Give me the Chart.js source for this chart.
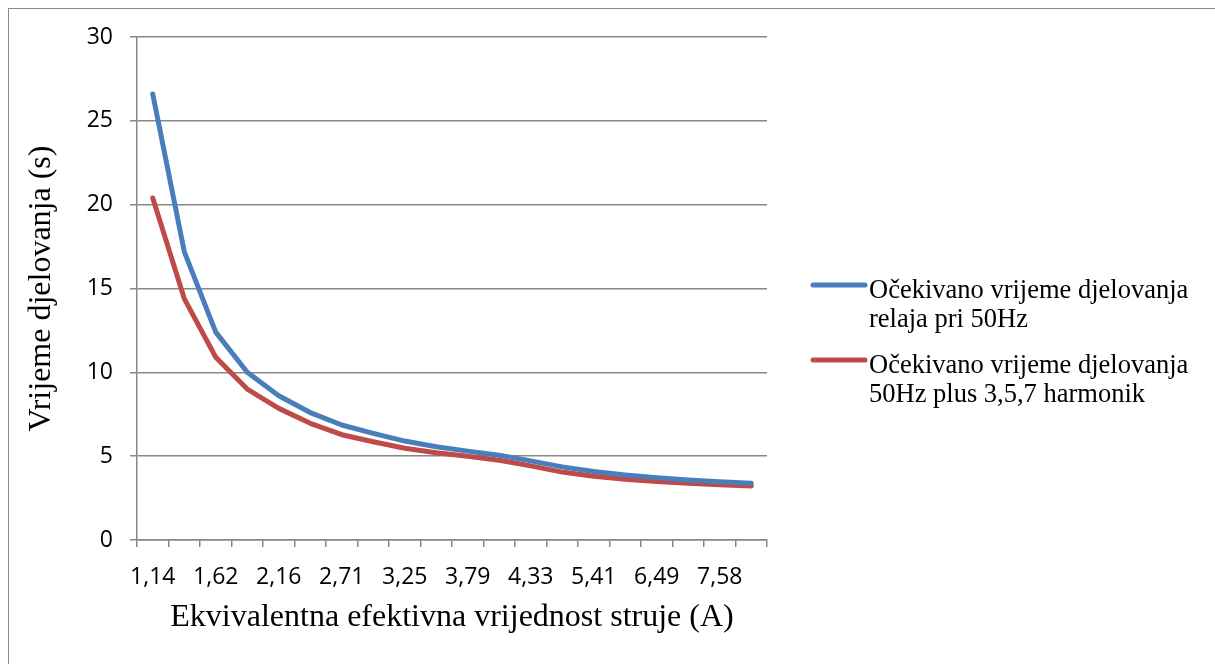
<!DOCTYPE html>
<html>
<head>
<meta charset="utf-8">
<title>Vrijeme djelovanja</title>
<script src="https://cdn.jsdelivr.net/npm/chart.js@4/dist/chart.umd.min.js"></script>
<style>
  html, body { margin: 0; padding: 0; background: #fff; }
  #wrap { position: relative; width: 1215px; height: 664px; overflow: hidden; }
  #frame { position: absolute; left: 8px; top: 8px; right: -10px; bottom: -10px;
           border-left: 1.5px solid #8a8a8a; border-top: 1.5px solid #8a8a8a; pointer-events: none; }
  canvas { position: absolute; left: 0; top: 0; }
</style>
</head>
<body>
<div id="wrap">
  <canvas id="myChart" width="1215" height="664"></canvas>
  <div id="frame"></div>
</div>
<script>
// struja (A) - kategorije na x osi
var struja = ["1,14", "1,35", "1,62", "1,90", "2,16", "2,44", "2,71", "2,98", "3,25", "3,52",
              "3,79", "4,06", "4,33", "4,87", "5,41", "5,96", "6,49", "7,04", "7,58", "8,12"];

// ocekivano vrijeme djelovanja pri 50Hz (s)
var vrijeme50 = [26.6, 17.2, 12.4, 10.0, 8.6, 7.6, 6.86, 6.36, 5.9, 5.56,
                 5.3, 5.05, 4.72, 4.36, 4.08, 3.88, 3.72, 3.58, 3.47, 3.38];

// ocekivano vrijeme djelovanja 50Hz + 3,5,7 harmonik (s)
var vrijemeHarm = [20.4, 14.4, 10.9, 9.0, 7.85, 6.96, 6.28, 5.86, 5.47, 5.2,
                   5.0, 4.76, 4.42, 4.05, 3.8, 3.62, 3.49, 3.38, 3.29, 3.22];

var yTicks = [0, 5, 10, 15, 20, 25, 30];

var legendText = [
    ["Očekivano vrijeme djelovanja", "relaja pri 50Hz"],
    ["Očekivano vrijeme djelovanja", "50Hz plus 3,5,7 harmonik"]
];

var gridColor = "#878787";

// legenda desno od grafa, tekst u dva reda
var legendPlugin = {
    id: 'sideLegend',
    afterDraw: function(chart) {
        var ctx = chart.ctx;
        ctx.save();
        ctx.font = "26.5px 'Liberation Serif'";
        ctx.fillStyle = "#000";
        ctx.textBaseline = "alphabetic";
        chart.data.datasets.forEach(function(ds, i) {
            var y = 285 + i * 75;
            ctx.strokeStyle = ds.borderColor;
            ctx.lineWidth = 5;
            ctx.lineCap = "round";
            ctx.beginPath();
            ctx.moveTo(813, y);
            ctx.lineTo(865, y);
            ctx.stroke();
            legendText[i].forEach(function(t, j) {
                ctx.fillText(t, 869, y + 12.7 + j * 29.3);
            });
        });
        ctx.restore();
    }
};

var ctx = document.getElementById("myChart").getContext('2d');
var myChart = new Chart(ctx, {
    type: 'line',
    data: {
        labels: struja,
        datasets: [{
            label: legendText[0].join(" "),
            borderColor: "#4a7ebb",
            backgroundColor: "#4a7ebb",
            data: vrijeme50
        }, {
            label: legendText[1].join(" "),
            borderColor: "#be4b48",
            backgroundColor: "#be4b48",
            data: vrijemeHarm
        }]
    },
    options: {
        responsive: false,
        animation: false,
        layout: { padding: { left: 0, right: 448, top: 37, bottom: 0 } },
        elements: {
            point: { radius: 0, hoverRadius: 0 },
            line: { borderWidth: 5, tension: 0, borderCapStyle: 'round', borderJoinStyle: 'round' }
        },
        plugins: {
            legend: { display: false },
            tooltip: { enabled: false }
        },
        scales: {
            x: {
                offset: true,
                grid: { offset: true, drawOnChartArea: false, color: gridColor, lineWidth: 1.5, tickLength: 7 },
                border: { color: gridColor, width: 1.5 },
                ticks: {
                    autoSkip: false, maxRotation: 0, padding: 17, color: "#000",
                    font: { family: "'Open Sans'", size: 23 },
                    callback: function(v, i) { return i % 2 === 0 ? struja[i] : ''; }
                },
                title: {
                    display: true, text: "Ekvivalentna efektivna vrijednost struje (A)", color: "#000",
                    font: { family: "'Liberation Serif'", size: 32 },
                    padding: { top: 0, bottom: 27 }
                },
                afterFit: function(s) { s.height = 124; }
            },
            y: {
                min: 0, max: 30,
                afterBuildTicks: function(s) { s.ticks = yTicks.map(function(v) { return { value: v }; }); },
                grid: { color: gridColor, lineWidth: 1.5, tickLength: 7 },
                border: { color: gridColor, width: 1.5 },
                ticks: {
                    padding: 17, color: "#000",
                    font: { family: "'Open Sans'", size: 23 }
                },
                title: {
                    display: true, text: "Vrijeme djelovanja (s)", color: "#000",
                    font: { family: "'Liberation Serif'", size: 32 },
                    padding: { top: 22, bottom: 0 }
                },
                afterFit: function(s) { s.width = 137; }
            }
        }
    },
    plugins: [legendPlugin]
});
</script>
</body>
</html>
